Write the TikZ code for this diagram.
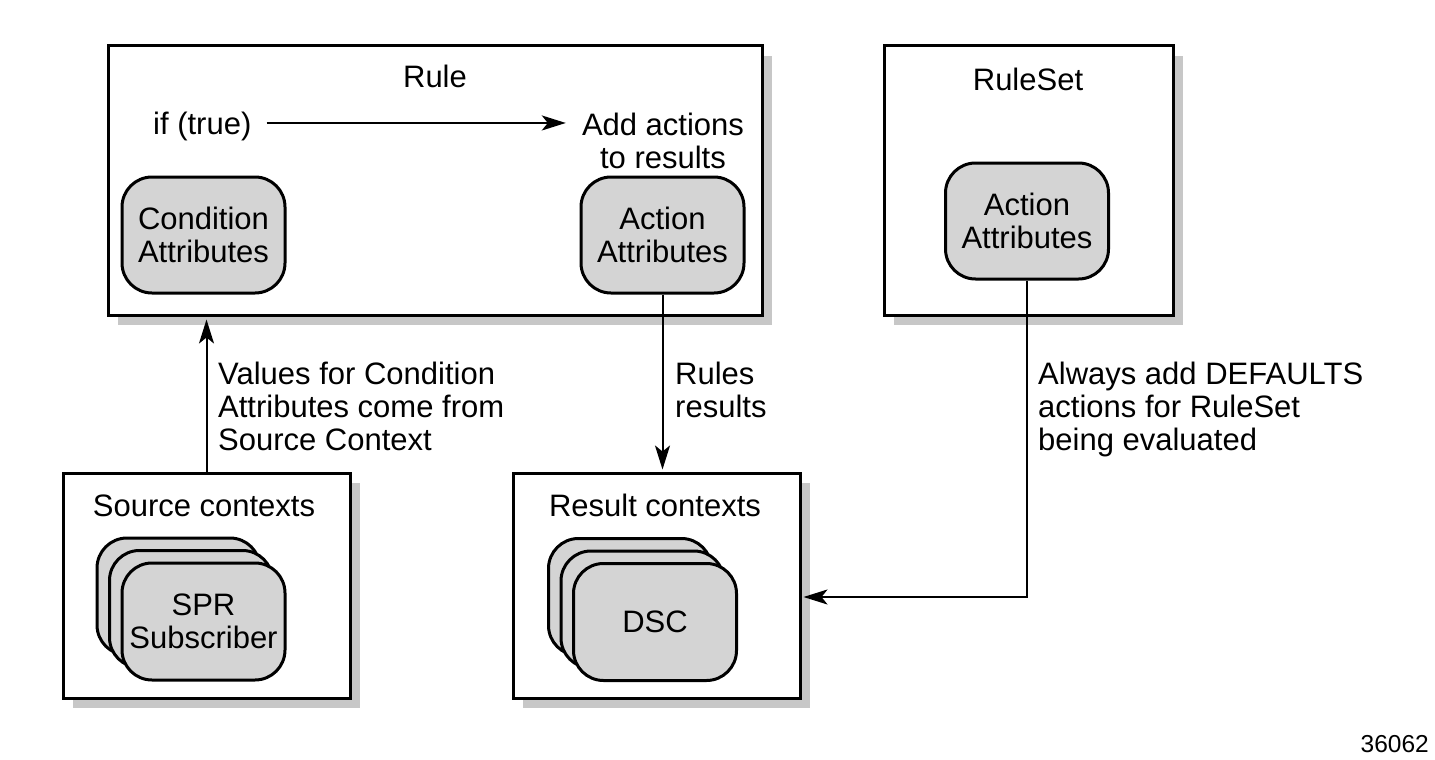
\documentclass[tikz,border=0pt]{standalone}
\usepackage{fontspec}
\setmainfont{Liberation Sans}
\usetikzlibrary{arrows.meta,shadows}

\begin{document}
\begin{tikzpicture}[
        x=1pt, y=-1pt,
        every node/.style={font=\fontsize{31}{33}\selectfont, inner sep=0pt},
        frame/.style={draw, line width=3pt, fill=white,
            drop shadow={shadow xshift=10pt, shadow yshift=-10pt, fill=black!22, opacity=1}},
        attr/.style={draw, line width=3pt, fill=black!17, rounded corners=30pt,
            minimum width=163pt, minimum height=116pt, align=center},
        conn/.style={line width=2pt, -{Stealth[length=24pt, width=15pt, inset=6pt]}},
        txt/.style={align=left, anchor=north west}
    ]
        \useasboundingbox (0, 0) rectangle (1435, 760);

        \node[frame, minimum width=654pt, minimum height=269pt] (rule) at (435, 180.5) {};
        \node[frame, minimum width=289pt, minimum height=269pt] (ruleset) at (1028.5, 180.5) {};
        \node[frame, minimum width=287pt, minimum height=225pt] (src) at (206.5, 585.5) {};
        \node[frame, minimum width=287pt, minimum height=225pt] (res) at (656.5, 585.5) {};

        \node[anchor=base] (rulelbl) at (435, 88) {Rule};
        \node[anchor=base] (rulesetlbl) at (1028, 90) {RuleSet};
        \node[anchor=base] (srclbl) at (204, 516) {Source contexts};
        \node[anchor=base] (reslbl) at (655, 516) {Result contexts};

        \node[anchor=base west] (iftrue) at (153, 134) {if (true)};
        \node[align=center, anchor=north] (addact) at (663, 113) {Add actions\\to results};

        \node[attr] (cond) at (203.5, 235) {Condition\\Attributes};
        \node[attr] (act) at (662.5, 235) {Action\\Attributes};
        \node[attr] (setact) at (1027, 221) {Action\\Attributes};

        \node[attr, minimum height=117pt] (spr3) at (178.5, 596.5) {};
        \node[attr, minimum height=117pt] (spr2) at (191, 609) {};
        \node[attr, minimum height=117pt] (spr1) at (203.5, 621.5) {SPR\\Subscriber};

        \node[attr, minimum height=117pt] (dsc3) at (630, 597) {};
        \node[attr, minimum height=117pt] (dsc2) at (642.5, 609.5) {};
        \node[attr, minimum height=117pt] (dsc1) at (655, 622) {DSC};

        \node[txt] (vals) at (218, 362) {Values for Condition\\Attributes come from\\Source Context};
        \node[txt] (rulesres) at (675, 362) {Rules\\results};
        \node[txt] (always) at (1038, 362) {Always add DEFAULTS\\actions for RuleSet\\being evaluated};

        \node[anchor=base east, font=\fontsize{24.5}{26}\selectfont] (fignum) at (1429, 752) {36062};

        \draw[conn] ([xshift=15pt, yshift=3pt]iftrue.east) -- ([xshift=-16pt, yshift=3pt]iftrue.east -| addact.west);
        \draw[conn, shorten >=3pt] (src.north) -- (src.north |- rule.south);
        \draw[conn, shorten >=2pt] (act.south) -- (act.south |- res.north);
        \draw[conn, shorten >=2pt] (setact.south) |- ([yshift=-11.5pt]res.east);
\end{tikzpicture}
\end{document}
